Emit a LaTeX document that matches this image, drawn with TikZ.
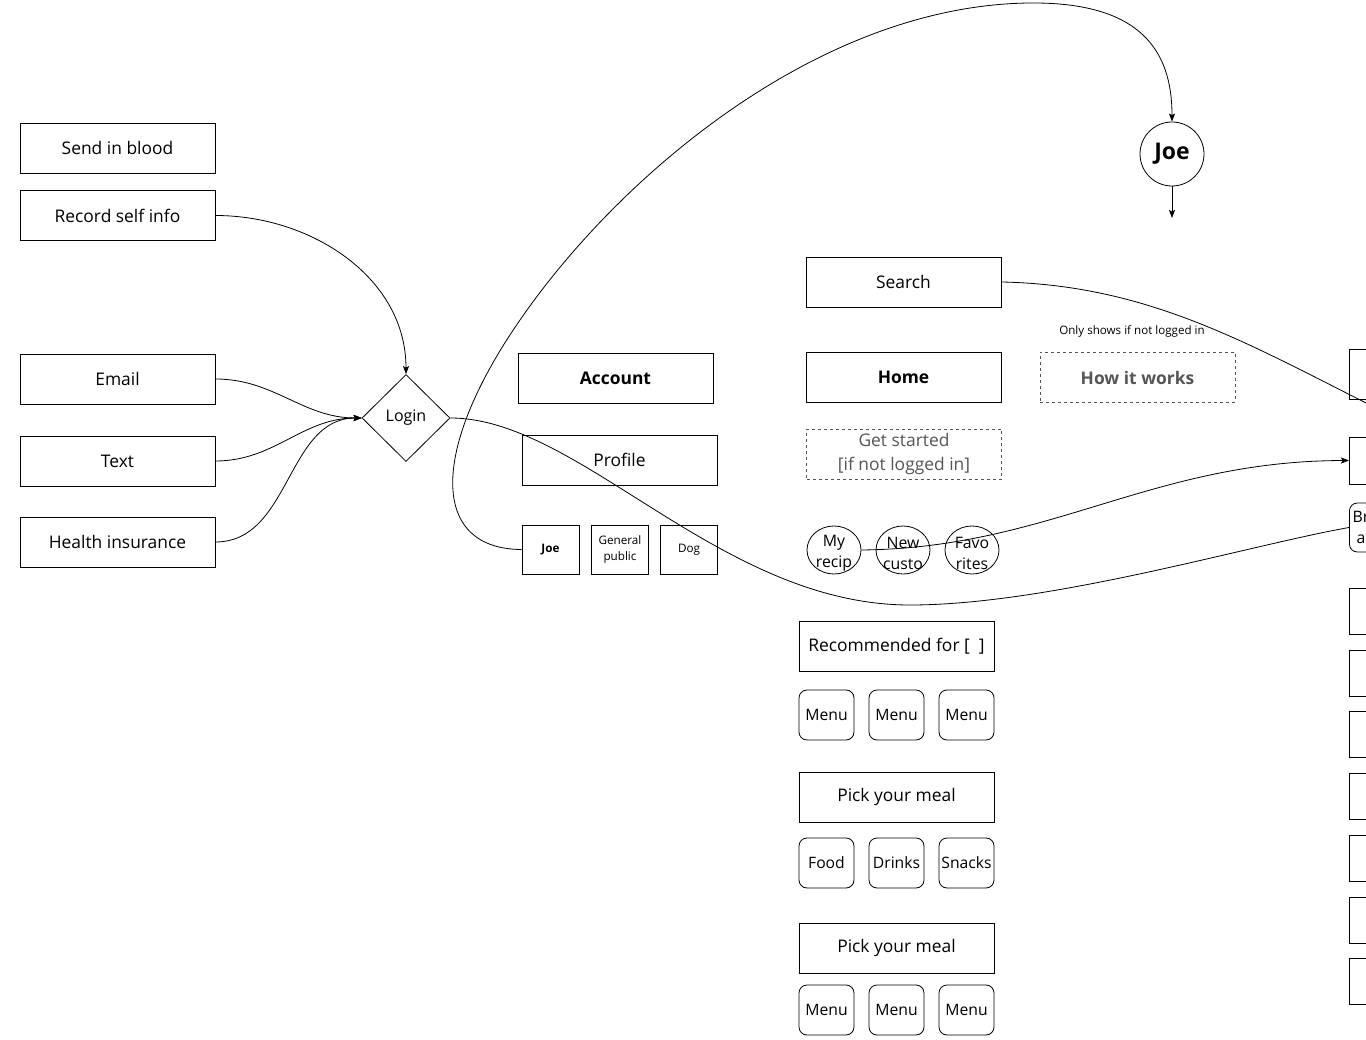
\documentclass[tikz,border=0pt]{standalone}
\usepackage{fontspec}
\setmainfont{Open Sans}
\usetikzlibrary{shapes.geometric,arrows.meta}
\definecolor{dashgray}{HTML}{555555}
\begin{document}
\begin{tikzpicture}[x=1pt,y=-1pt,line width=.8pt,font=\fontsize{17.4}{20}\selectfont,
  box/.style={draw,minimum width=195pt,minimum height=50pt,inner sep=0pt},
  dashbox/.style={box,dashed,draw=dashgray,text=dashgray},
  tiny/.style={draw,minimum width=57pt,minimum height=49pt,inner sep=0pt,align=center,font=\fontsize{11.7}{16.5}\selectfont},
  menu/.style={draw,rounded corners=8pt,minimum width=55pt,minimum height=50pt,inner sep=0pt,font=\fontsize{15.7}{19}\selectfont},
  circ/.style={draw,ellipse,minimum width=54pt,minimum height=48pt,inner sep=0pt},
  circtext/.style={align=center,font=\fontsize{15.8}{21}\selectfont},
  edge/.style={-{Stealth[length=8pt,width=6pt,inset=1.5pt]}}]
\useasboundingbox (0,0) rectangle (1366,1040);
\node[box] (blood) at (117.5,148) {Send in blood};
\node[box] (self) at (117.5,215.5) {Record self info};
\node[box] (email) at (117.5,379) {Email};
\node[box] (text) at (117.5,461) {Text};
\node[box] (insurance) at (117.5,542) {Health insurance};
\node[draw,diamond,aspect=1,minimum width=88pt,minimum height=87pt,inner sep=0pt,font=\fontsize{16}{19}\selectfont] (login) at (406,418) {Login};
\node[box] (account) at (615.5,378) {\textbf{Account}};
\node[box] (profile) at (619.5,460) {Profile};
\node[tiny] (joe) at (550.5,549.5) {\textbf{Joe}};
\node[tiny] (public) at (620,549.5) {General\\public};
\node[tiny] (dog) at (689,549.5) {Dog};
\node[box] (search) at (903.5,282) {Search};
\node[box] (home) at (903.5,377.5) {\textbf{Home}};
\node[dashbox] (how) at (1137.5,377.5) {\textbf{How it works}};
\node[font=\fontsize{11.6}{13}\selectfont] (note) at (1132,331) {Only shows if not logged in};
\node[dashbox,align=center,font=\fontsize{17.4}{24}\selectfont] (start) at (904,454) {Get started\\{}[if not logged in]};
\node[circ] (myrecipes) at (834,550) {};\node[circtext] at ([yshift=-3]myrecipes) {My\\recip};
\node[circ] (newcusto) at (903,550) {};\node[circtext] at ([yshift=-3]newcusto) {New\\custo};
\node[circ] (favorites) at (972,550) {};\node[circtext] at ([yshift=-3]favorites) {Favo\\rites};
\node[box] (recommended) at (896.5,646.5) {Recommended for [ \ ]};
\node[menu] (menua) at (826.5,715) {Menu};\node[menu] (menub) at (896.5,715) {Menu};\node[menu] (menuc) at (966.5,715) {Menu};
\node[box] (pick) at (896.5,797) {Pick your meal};
\node[menu] (food) at (826.5,863) {Food};\node[menu] (drinks) at (896.5,863) {Drinks};\node[menu] (snacks) at (966.5,863) {Snacks};
\node[box] (picktwo) at (896.5,948) {Pick your meal};
\node[menu] (menud) at (826.5,1010) {Menu};\node[menu] (menue) at (896.5,1010) {Menu};\node[menu] (menuf) at (966.5,1010) {Menu};
\node[draw,circle,minimum size=64pt,inner sep=0pt,font=\fontsize{23}{26}\selectfont\bfseries] (joecircle) at (1172,154) {Joe};
\coordinate (joeout) at (1172,218);
\node[box,anchor=west] (righta) at (1349,374) {};
\node[box,anchor=west,minimum height=47pt] (rightb) at (1349,460.5) {};
\node[menu,anchor=west,minimum width=195pt,minimum height=49pt] (breakfast) at (1349,527.5) {};
\node[circtext,anchor=west] at (1349,527.5) {Br\\a};
\foreach \y [count=\i] in {611,673,734,796,858,920,981}
  \node[box,anchor=west,minimum height=46pt] (list\i) at (1349,\y) {};
\coordinate (searchout) at (1380,410);
\draw[edge] (self.east) .. controls (312,215.5) and (406,278) .. (login.north);
\draw[edge] (email.east) to[out=0,in=180] (login.west);
\draw[edge] (text.east) to[out=0,in=180] (login.west);
\draw[edge] (insurance.east) to[out=0,in=180] (login.west);
\draw (login.east) .. controls (580,418) and (720,605) .. (910,605) .. controls (1050,605) and (1250,545) .. (breakfast.west);
\draw[edge] (joe.west) .. controls (430,549) and (430,450) .. (520,320) .. controls (620,175) and (820,5) .. (1030,3) .. controls (1140,2) and (1172,50) .. (joecircle.north);
\draw[edge] (joecircle.south) -- (joeout);
\draw (search.east) .. controls (1150,285) and (1250,345) .. (searchout);
\draw[edge] (myrecipes.east) .. controls (1050,548) and (1150,461) .. (rightb.west);
\end{tikzpicture}
\end{document}
